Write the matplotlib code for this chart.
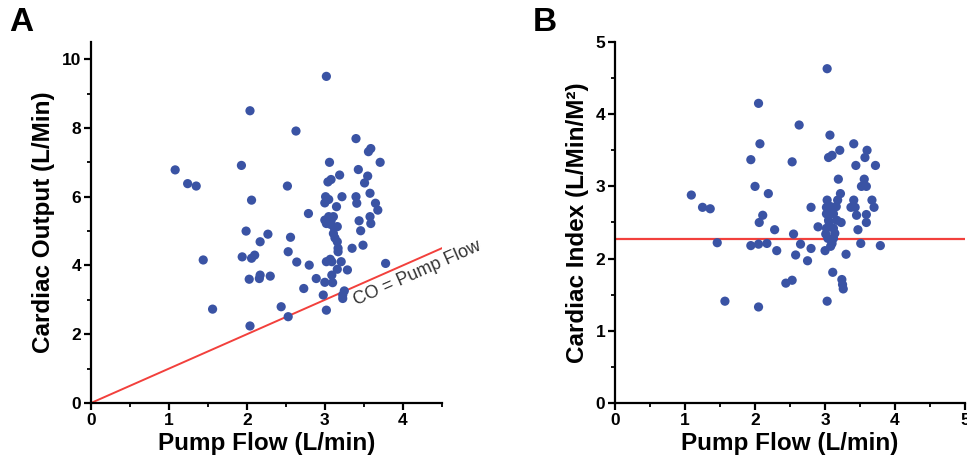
import matplotlib
matplotlib.use("Agg")
import matplotlib.pyplot as plt
from matplotlib.ticker import MultipleLocator

plt.rcParams['font.family'] = ['Liberation Sans', 'DejaVu Sans']

# panel A: pump flow vs cardiac output
flow_a = [1.08, 1.24, 1.35, 1.44, 1.56,
          1.93, 2.04, 2.06, 1.99, 1.94, 2.06, 2.10, 2.03, 2.16, 2.17, 2.17, 2.27, 2.30, 2.04,
          2.44, 2.53, 2.52, 2.56, 2.53, 2.63, 2.64, 2.73, 2.79, 2.80, 2.89, 2.98, 3.00,
          3.02, 3.02, 3.06, 3.04, 3.08, 3.19, 3.01, 3.05, 3.00, 3.15, 3.22,
          3.00, 3.05, 3.11, 3.02, 3.07, 3.16, 3.11, 3.16, 3.17, 3.17,
          3.35, 3.49, 3.02, 3.07, 3.09, 3.21, 3.16, 3.29,
          3.09, 3.10, 3.25, 3.23, 3.23,
          3.40, 3.56, 3.59, 3.71, 3.43, 3.55, 3.51, 3.58, 3.40, 3.41, 3.65, 3.68, 3.58, 3.59,
          3.44, 3.46, 3.78, 3.12, 3.08, 3.13]
co_a = [6.78, 6.38, 6.31, 4.16, 2.73,
        6.91, 8.50, 5.90, 5.00, 4.25, 4.21, 4.30, 3.60, 3.62, 3.72, 4.69, 4.91, 3.69, 2.24,
        2.80, 2.51, 6.31, 4.82, 4.40, 7.91, 4.10, 3.33, 5.51, 4.01, 3.62, 3.14, 3.51,
        9.50, 2.70, 7.00, 6.43, 6.50, 6.63, 6.00, 5.92, 5.82, 5.71, 6.00,
        5.32, 5.42, 5.42, 5.22, 5.20, 5.13, 4.93, 4.69, 4.50, 4.40,
        4.50, 4.59, 4.11, 4.18, 4.11, 4.11, 3.89, 3.87,
        3.72, 3.50, 3.26, 3.14, 3.04,
        7.69, 7.31, 7.40, 7.00, 6.79, 6.60, 6.40, 6.10, 6.00, 5.81, 5.81, 5.61, 5.42, 5.22,
        5.30, 5.01, 4.06, 5.10, 5.30, 4.80]

# panel B: pump flow vs cardiac index
flow_b = [3.03, 2.05, 2.63, 3.07, 2.07, 3.41, 1.94, 2.53, 3.05, 3.10, 3.21, 3.60, 3.57,
          3.44, 3.72, 3.19, 3.56, 3.52, 3.59, 2.00, 2.19, 1.09, 1.25, 1.36, 3.22, 3.03,
          3.18, 3.41, 3.67, 2.80, 3.02, 3.08, 3.16, 3.37, 3.43, 3.70, 2.11, 3.02, 3.12,
          3.45, 3.59, 2.06, 3.06, 3.23, 3.59, 2.90, 3.02, 3.12, 2.28, 3.47, 2.55, 3.01,
          3.14, 1.46, 1.94, 2.05, 2.17, 2.65, 3.10, 3.08, 3.51, 3.79, 2.31, 2.80, 3.00,
          2.58, 3.30, 2.75, 3.11, 3.24, 3.25, 3.26, 2.44, 2.53, 1.57, 3.03, 2.05,
          3.05, 3.17, 3.12, 3.04, 3.09]
ci_b = [4.63, 4.15, 3.85, 3.71, 3.59, 3.59, 3.37, 3.34, 3.40, 3.43, 3.50, 3.50, 3.40,
        3.29, 3.29, 3.10, 3.10, 3.00, 3.00, 3.00, 2.90, 2.88, 2.71, 2.69, 2.90, 2.81,
        2.81, 2.81, 2.81, 2.71, 2.71, 2.72, 2.72, 2.71, 2.71, 2.71, 2.60, 2.62, 2.62,
        2.60, 2.61, 2.50, 2.50, 2.50, 2.50, 2.44, 2.42, 2.42, 2.40, 2.40, 2.34, 2.34,
        2.35, 2.22, 2.18, 2.20, 2.21, 2.20, 2.21, 2.17, 2.21, 2.18, 2.11, 2.14, 2.11,
        2.05, 2.06, 1.97, 1.81, 1.71, 1.64, 1.58, 1.66, 1.70, 1.41, 1.41, 1.33,
        2.53, 2.53, 2.28, 2.28, 2.65]
ci_ref = 2.27

dot_col = '#3a53a4'
line_col = '#f2403c'

fig = plt.figure(figsize=(9.67, 4.66), dpi=100)
axA = fig.add_axes([0.0941, 0.1352, 0.3627, 0.7747])
axB = fig.add_axes([0.636, 0.1352, 0.362, 0.7747])


def style_ax(ax):
    for s in ['top', 'right']:
        ax.spines[s].set_visible(False)
    for s in ['left', 'bottom']:
        ax.spines[s].set_linewidth(1.6)
    ax.tick_params(which='major', direction='out', length=5, width=1.6, labelsize=12.5, pad=2)
    ax.tick_params(which='minor', direction='out', length=3, width=1.3)
    for lab in ax.get_xticklabels() + ax.get_yticklabels():
        lab.set_fontweight('bold')


# A
axA.plot([0, 4.5], [0, 4.5], color=line_col, lw=1.4, zorder=1)
axA.scatter(flow_a, co_a, s=44, color=dot_col, edgecolors='none', zorder=2)
axA.set_xlim(0, 4.5)
axA.set_ylim(0, 10.5)
axA.xaxis.set_major_locator(MultipleLocator(1))
axA.xaxis.set_minor_locator(MultipleLocator(0.5))
axA.yaxis.set_major_locator(MultipleLocator(2))
axA.yaxis.set_minor_locator(MultipleLocator(1))
axA.set_xticks([0, 1, 2, 3, 4])
axA.set_xticklabels(['0', '1', '2', '3', '4'])
style_ax(axA)
axA.set_xlabel('Pump Flow (L/min)', fontsize=17.5, fontweight='bold', labelpad=3)
axA.set_ylabel('Cardiac Output (L/Min)', fontsize=17.5, fontweight='bold', labelpad=5)
axA.text(3.42, 2.72, 'CO = Pump Flow', fontsize=13, color='#333333', rotation=24,
         rotation_mode='anchor', ha='left', va='bottom', clip_on=False)

# B
axB.axhline(ci_ref, color=line_col, lw=1.6, zorder=1)
axB.scatter(flow_b, ci_b, s=44, color=dot_col, edgecolors='none', zorder=2)
axB.set_xlim(0, 5)
axB.set_ylim(0, 5)
axB.xaxis.set_major_locator(MultipleLocator(1))
axB.xaxis.set_minor_locator(MultipleLocator(0.5))
axB.yaxis.set_major_locator(MultipleLocator(1))
axB.yaxis.set_minor_locator(MultipleLocator(0.5))
style_ax(axB)
axB.set_xlabel('Pump Flow (L/min)', fontsize=17.5, fontweight='bold', labelpad=3)
axB.set_ylabel('Cardiac Index (L/Min/M²)', fontsize=17.5, fontweight='bold', labelpad=5)

fig.text(0.010, 0.918, 'A', fontsize=24, fontweight='bold', va='bottom')
fig.text(0.551, 0.918, 'B', fontsize=24, fontweight='bold', va='bottom')

fig.savefig('out.png', dpi=100)
